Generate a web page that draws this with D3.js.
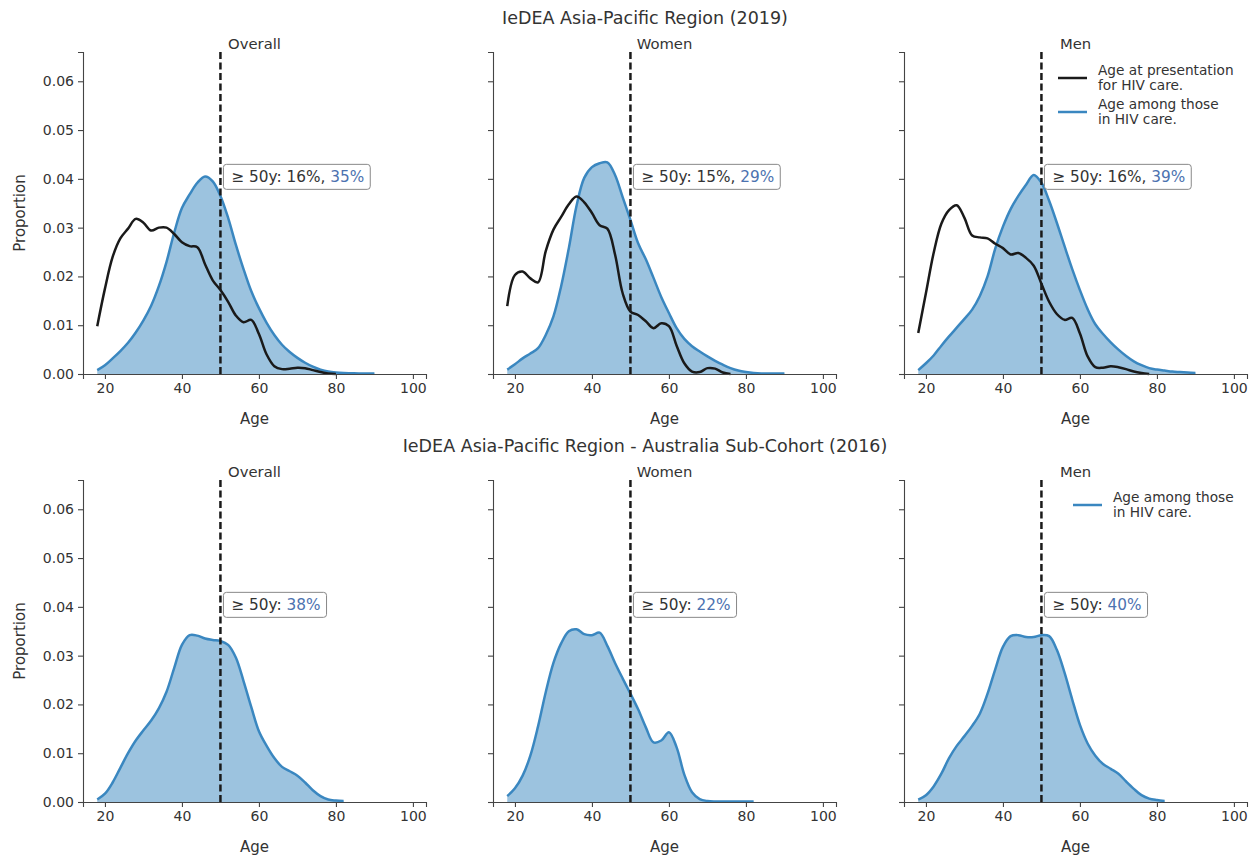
<!DOCTYPE html>
<html>
<head>
<meta charset="utf-8">
<script src="https://cdn.jsdelivr.net/npm/d3@7"></script>
<style>
  body { margin: 0; background: #fff; }
  svg { font-family: "DejaVu Sans", sans-serif; }
</style>
</head>
<body>
<svg id="chart" width="1255" height="856"></svg>
<script>
// Age grid (years) shared by all density curves
const ages = [18,20,22,24,26,28,30,32,34,36,38,40,42,44,46,48,50,52,54,56,58,60,62,64,66,68,70,72,74,76,78,80,82,84,86,88,90];

// 2019 - age at presentation for HIV care (black)
const presOverall = [0.0098,0.0175,0.0240,0.0278,0.0298,0.0318,0.0310,0.0294,0.0300,0.0300,0.0287,0.0270,0.0262,0.0260,0.0225,0.0192,0.0172,0.0148,0.0120,0.0106,0.0111,0.0082,0.0040,0.0016,0.0010,0.0011,0.0013,0.0012,0.0008,0.0004,0.0001,0.0];
const presWomen = [0.0139,0.0203,0.0210,0.0196,0.0188,0.0252,0.0296,0.0322,0.0348,0.0364,0.0352,0.0330,0.0305,0.0298,0.0245,0.0165,0.0128,0.0121,0.0108,0.0094,0.0104,0.0098,0.0058,0.0022,0.0005,0.0004,0.0012,0.0011,0.0003,0.0];
const presMen = [0.0084,0.0166,0.0248,0.0308,0.0336,0.0346,0.0320,0.0284,0.0280,0.0278,0.0267,0.0258,0.0245,0.0248,0.0238,0.0222,0.0185,0.0148,0.0123,0.0111,0.0115,0.0083,0.0036,0.0014,0.0013,0.0016,0.0014,0.0010,0.0005,0.0002,0.0];

// 2019 - age among those in HIV care (blue)
const careOverall = [0.0008,0.0018,0.0032,0.0047,0.0064,0.0085,0.0110,0.0140,0.0180,0.0230,0.0290,0.0340,0.0368,0.0392,0.0405,0.0395,0.0365,0.0320,0.0265,0.0215,0.0170,0.0135,0.0105,0.0080,0.0060,0.0045,0.0033,0.0023,0.0015,0.0009,0.0005,0.0003,0.0002,0.00015,0.0001,0.0001,0.0001];
const careWomen = [0.0009,0.0020,0.0032,0.0042,0.0053,0.0080,0.0118,0.0180,0.0258,0.0345,0.0402,0.0424,0.0432,0.0434,0.0408,0.0362,0.0316,0.0268,0.0235,0.0197,0.0158,0.0125,0.0094,0.0072,0.0057,0.0046,0.0036,0.0027,0.0019,0.0012,0.0007,0.0004,0.0002,0.0001,0.0001,0.0001,0.0001];
const careMen = [0.0008,0.0022,0.0038,0.0058,0.0077,0.0095,0.0113,0.0132,0.0160,0.0200,0.0257,0.0302,0.0338,0.0365,0.0388,0.0408,0.0392,0.0355,0.0310,0.0262,0.0215,0.0172,0.0133,0.0102,0.0082,0.0065,0.0050,0.0037,0.0026,0.0018,0.0012,0.0009,0.0007,0.0005,0.0004,0.0003,0.0002];

// 2016 Australia sub-cohort - age among those in HIV care (blue)
const ausOverall = [0.0005,0.0017,0.0040,0.0070,0.0100,0.0126,0.0147,0.0167,0.0192,0.0226,0.0275,0.0322,0.0342,0.0341,0.0335,0.0332,0.0330,0.0322,0.0296,0.0248,0.0195,0.0145,0.0115,0.0090,0.0072,0.0063,0.0054,0.0040,0.0024,0.0012,0.0005,0.0003,0.0002];
const ausWomen = [0.0012,0.0028,0.0054,0.0095,0.0155,0.0225,0.0285,0.0325,0.0350,0.0354,0.0344,0.0342,0.0347,0.0320,0.0285,0.0253,0.0222,0.0190,0.0153,0.0122,0.0126,0.0143,0.0112,0.0056,0.0020,0.0006,0.0002,0.0001,0.0001,0.0001,0.0001,0.0001,0.0001];
const ausMen = [0.0005,0.0014,0.0032,0.0058,0.0090,0.0115,0.0135,0.0156,0.0181,0.0222,0.0272,0.0318,0.0340,0.0342,0.0338,0.0338,0.0342,0.0340,0.0312,0.0265,0.0210,0.0158,0.0120,0.0095,0.0078,0.0068,0.0058,0.0042,0.0027,0.0014,0.0007,0.0004,0.0002];

const groups = ["Overall", "Women", "Men"];
const pct2019 = [["16%", "35%"], ["15%", "29%"], ["16%", "39%"]];
const pct2016 = ["38%", "22%", "40%"];
const rowTitles = ["IeDEA Asia-Pacific Region (2019)", "IeDEA Asia-Pacific Region - Australia Sub-Cohort (2016)"];
const legendPres = ["Age at presentation", "for HIV care."];
const legendCare = ["Age among those", "in HIV care."];
const yTicks = [0, 0.01, 0.02, 0.03, 0.04, 0.05, 0.06];
const xTicks = [20, 40, 60, 80, 100];
const cutoff = 50;

const textColor = "#333";
const blue = "#3a87c0";
const pctBlue = "#4c72b0";

const svg = d3.select("#chart");
const panelLeft = [83, 493, 904];
const panelW = 343;
const rowTop = [52, 480];
const panelH = 322;

const x = d3.scaleLinear().domain([14.3, 103.4]).range([0, panelW]);
const y = d3.scaleLinear().domain([0, 0.066]).range([panelH, 0]);

const line = d3.line().x((d, i) => x(ages[i])).y(d => y(d)).curve(d3.curveCatmullRom);
const area = d3.area().x((d, i) => x(ages[i])).y0(panelH).y1(d => y(d)).curve(d3.curveCatmullRom);

// Row titles
rowTitles.forEach((t, r) => {
  svg.append("text")
    .attr("x", 645).attr("y", r === 0 ? 24 : 452)
    .attr("text-anchor", "middle")
    .attr("font-size", 17.5)
    .attr("fill", textColor)
    .text(t);
});

function drawPanel(row, col, pres, care, pcts) {
  const g = svg.append("g")
    .attr("transform", `translate(${panelLeft[col]},${rowTop[row]})`);

  // care density (filled)
  g.append("path").datum(care)
    .attr("d", area)
    .attr("fill", blue).attr("fill-opacity", 0.5);
  g.append("path").datum(care)
    .attr("d", line)
    .attr("fill", "none").attr("stroke", blue).attr("stroke-width", 2.5);

  // presentation density
  if (pres) {
    g.append("path").datum(pres)
      .attr("d", line)
      .attr("fill", "none").attr("stroke", "#1a1a1a").attr("stroke-width", 2.5);
  }

  // 50y cutoff
  g.append("line")
    .attr("x1", x(cutoff)).attr("x2", x(cutoff))
    .attr("y1", 0).attr("y2", panelH)
    .attr("stroke", "#1a1a1a").attr("stroke-width", 2.5)
    .attr("stroke-dasharray", "7,3.5");

  // axes
  const xAxis = g.append("g")
    .attr("transform", `translate(0,${panelH})`)
    .call(d3.axisBottom(x).tickValues(xTicks).tickSize(5).tickPadding(4));
  const yAxis = g.append("g")
    .call(d3.axisLeft(y).tickValues(yTicks).tickSize(5).tickPadding(4)
      .tickFormat(col === 0 ? d3.format(".2f") : ""));
  [xAxis, yAxis].forEach(a => {
    a.select(".domain").attr("stroke", "#444").attr("stroke-width", 1.1);
    a.selectAll(".tick line").attr("stroke", "#444").attr("stroke-width", 1.1);
    a.selectAll("text").attr("fill", textColor).attr("font-size", 14)
      .attr("font-family", "DejaVu Sans, sans-serif");
  });

  g.append("text")
    .attr("x", panelW / 2).attr("y", panelH + 50)
    .attr("text-anchor", "middle").attr("font-size", 15).attr("fill", textColor)
    .text("Age");
  if (col === 0) {
    g.append("text")
      .attr("transform", `translate(-58,${panelH / 2}) rotate(-90)`)
      .attr("text-anchor", "middle").attr("font-size", 15).attr("fill", textColor)
      .text("Proportion");
  }

  // subplot title
  g.append("text")
    .attr("x", panelW / 2).attr("y", -3)
    .attr("text-anchor", "middle").attr("font-size", 14.8).attr("fill", textColor)
    .text(groups[col]);

  // annotation box
  const ann = g.append("g").attr("transform", `translate(${x(cutoff) + 3},${y(0.04) - 2})`);
  const rect = ann.append("rect").attr("fill", "#fff").attr("stroke", "#888")
    .attr("stroke-width", 1).attr("rx", 3);
  const t = ann.append("text").attr("x", 8).attr("y", 5.5)
    .attr("font-size", 15.3).attr("fill", textColor);
  if (pcts.length === 2) {
    t.append("tspan").text(`\u2265 50y:  ${pcts[0]}, `);
    t.append("tspan").attr("fill", pctBlue).text(pcts[1]);
  } else {
    t.append("tspan").text("\u2265 50y:  ");
    t.append("tspan").attr("fill", pctBlue).text(pcts[0]);
  }
  const bb = t.node().getBBox();
  rect.attr("x", 0).attr("y", -12.5).attr("width", bb.width + 14).attr("height", 25);
  return g;
}

const cares2019 = [careOverall, careWomen, careMen];
const pres2019 = [presOverall, presWomen, presMen];
const aus2016 = [ausOverall, ausWomen, ausMen];

const topRight = groups.map((gName, c) => drawPanel(0, c, pres2019[c], cares2019[c], pct2019[c]))[2];
const botRight = groups.map((gName, c) => drawPanel(1, c, null, aus2016[c], [pct2016[c]]))[2];

function legendEntry(g, lx, ly, color, lines) {
  g.append("line").attr("x1", lx).attr("x2", lx + 29).attr("y1", ly).attr("y2", ly)
    .attr("stroke", color).attr("stroke-width", 2.5);
  lines.forEach((s, i) => {
    g.append("text").attr("x", lx + 40).attr("y", ly - 3.5 + i * 15)
      .attr("font-size", 13.7).attr("fill", textColor).text(s);
  });
}
legendEntry(topRight, 1058 - 904, 78 - 52, "#1a1a1a", legendPres);
legendEntry(topRight, 1058 - 904, 112 - 52, blue, legendCare);
legendEntry(botRight, 1073 - 904, 505 - 480, blue, legendCare);
</script>
</body>
</html>
